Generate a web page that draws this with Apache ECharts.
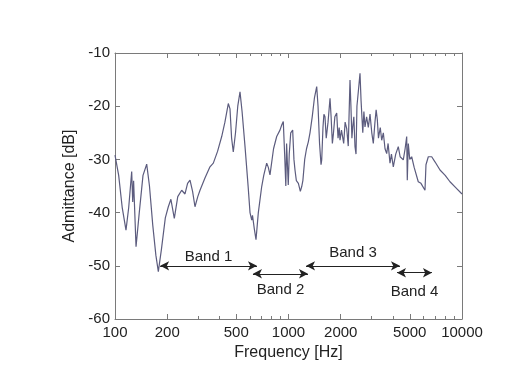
<!DOCTYPE html>
<html>
<head>
<meta charset="utf-8">
<script src="https://cdn.jsdelivr.net/npm/echarts@6/dist/echarts.min.js"></script>
<style>
	html, body { margin: 0; padding: 0; background: #fff; }
	#chart { width: 511px; height: 378px; }
</style>
</head>
<body>
<div id="chart"></div>
<script>
// measured admittance curve (Hz, dB)
const freq = [
	100, 105, 110, 115.7, 120, 124.8, 126.5, 128, 132.2, 138, 145, 152.3, 158, 165, 172, 177.7,
	185, 195, 202.9, 210, 219.7, 230, 242.3, 253.2, 262, 270.6, 280, 289.1, 300, 309,
	330, 352.7, 368.7, 390, 412.1, 430, 449.8, 460, 470, 480.6, 495, 510, 525.4, 540, 561.6,
	585, 600, 613.8, 620, 635, 649.7, 670, 700.7, 720, 748.7, 765, 782.2, 820, 855, 870,
	893, 915, 933.3, 950, 965, 975, 997, 1010, 1030, 1057, 1075, 1090, 1110, 1140, 1170,
	1192, 1210, 1240, 1270, 1301, 1330, 1370, 1410, 1454, 1480, 1510, 1540, 1554, 1580,
	1600, 1623, 1650, 1690, 1735, 1760, 1790, 1812, 1850, 1896, 1930, 1960, 1981, 2020,
	2080, 2120, 2165, 2210, 2262, 2290, 2320, 2344, 2380, 2417, 2450, 2480, 2530, 2583,
	2620, 2680, 2720, 2760, 2820, 2884, 2950, 3020, 3082, 3150, 3200, 3250, 3300, 3380,
	3445, 3520, 3600, 3681, 3750, 3846, 3920, 4018, 4150, 4293, 4400, 4588, 4700, 4800,
	4838, 4903, 5000, 5129, 5300, 5598, 5800, 6119, 6200, 6395, 6690, 7000, 7468, 8000,
	8527, 9200, 10000
];
const admittance = [
	-29.2, -33, -39, -43.3, -39, -32.3, -38, -34, -46.4, -40, -33, -30.9, -35, -42.3, -48, -51.1,
	-47, -41, -38.9, -37.5, -41.1, -37, -35.8, -36.5, -34.5, -33.9, -36, -38.9, -37, -35.8,
	-33.5, -31.4, -30.7, -28.5, -25.7, -23, -19.5, -20.5, -26, -28.6, -25, -20, -17.3, -21, -27.6,
	-35, -40, -41.4, -40.5, -43, -45.1, -40, -35.1, -33, -30.7, -31.5, -32.9, -28, -25.7, -26,
	-24.5, -23.5, -22.9, -29, -35, -27, -34.8, -29, -25, -24.5, -30, -32, -34, -34.5, -36,
	-35.1, -34, -30, -28, -26.7, -25, -22, -18.5, -16.3, -20, -27, -31, -30.1, -24,
	-21.5, -22, -26, -23, -18.5, -22, -27, -25.4, -22, -21.3, -26, -24, -26.4, -24.5,
	-27, -23, -24.2, -27.5, -15.1, -20, -26, -24, -22, -27.6, -29, -20, -17, -13.8,
	-19, -25, -21, -23.9, -22, -24, -21.5, -25, -27, -23, -20.7, -22.5, -26, -24,
	-26.4, -25, -28, -28.9, -27, -30.7, -29, -31.4, -29, -27.6, -29.5, -30.1, -28, -25.7,
	-33.9, -27, -30, -29.5, -31.5, -34.2, -34.5, -35.8, -31, -29.5, -29.5, -30.5, -32, -33,
	-34.2, -35.3, -36.5
];

// frequency bands marked with double arrows
const bandNames = ['Band 1', 'Band 2', 'Band 3', 'Band 4'];
const bandStart = [182, 624, 1262, 4220];
const bandEnd = [658, 1295, 4390, 6710];
const bandLevel = [-50, -51.5, -50, -51.3];

const majorTicks = [100, 200, 500, 1000, 2000, 5000, 10000];

const minorTicks = [];
[100, 1000].forEach(d => {
	for (let k = 1; k <= 10; k++) {
		if (!majorTicks.includes(d * k)) minorTicks.push(d * k);
	}
});

const chart = echarts.init(document.getElementById('chart'), null, { renderer: 'canvas' });

const fontFamily = 'Liberation Sans, Arial, sans-serif';
const axisColor = '#7a7a7a';

const xBase = {
	type: 'log',
	logBase: 10,
	min: 100,
	max: 10000,
	splitLine: { show: false },
	axisLine: { show: true, lineStyle: { color: axisColor, width: 1 } },
	axisLabel: { show: false },
	axisTick: { inside: true, length: 5, lineStyle: { color: axisColor } }
};

const option = {
	animation: false,
	backgroundColor: '#fff',
	grid: { left: 115, right: 49, top: 53, bottom: 59 },
	xAxis: [
		Object.assign({}, xBase, {
			position: 'bottom',
			name: 'Frequency [Hz]',
			nameLocation: 'middle',
			nameGap: 25,
			nameTextStyle: { fontSize: 16, color: '#222', fontFamily },
			axisLabel: {
				show: true,
				customValues: majorTicks,
				margin: 6,
				fontSize: 15,
				color: '#222',
				fontFamily,
				formatter: v => String(Math.round(v))
			},
			axisTick: { inside: true, length: 5, customValues: majorTicks, lineStyle: { color: axisColor } }
		}),
		Object.assign({}, xBase, {
			position: 'bottom',
			axisLine: { show: false },
			axisTick: { show: true, inside: true, length: 3, customValues: minorTicks, lineStyle: { color: axisColor } }
		}),
		Object.assign({}, xBase, {
			position: 'top',
			axisTick: { inside: true, length: 5, customValues: majorTicks, lineStyle: { color: axisColor } }
		}),
		Object.assign({}, xBase, {
			position: 'top',
			axisLine: { show: false },
			axisTick: { show: true, inside: true, length: 3, customValues: minorTicks, lineStyle: { color: axisColor } }
		})
	],
	yAxis: [
		{
			type: 'value',
			position: 'left',
			min: -60,
			max: -10,
			interval: 10,
			name: 'Admittance [dB]',
			nameLocation: 'middle',
			nameGap: 33,
			nameTextStyle: { fontSize: 16, color: '#222', fontFamily },
			splitLine: { show: false },
			axisLine: { show: true, lineStyle: { color: axisColor } },
			axisTick: { inside: true, length: 5, lineStyle: { color: axisColor } },
			axisLabel: { fontSize: 15, color: '#222', fontFamily, margin: 5 }
		},
		{
			type: 'value',
			position: 'right',
			min: -60,
			max: -10,
			interval: 10,
			splitLine: { show: false },
			axisLine: { show: true, lineStyle: { color: axisColor } },
			axisTick: { inside: true, length: 5, lineStyle: { color: axisColor } },
			axisLabel: { show: false }
		}
	],
	series: [
		{
			type: 'line',
			xAxisIndex: 0,
			yAxisIndex: 0,
			data: freq.map((f, i) => [f, admittance[i]]),
			showSymbol: false,
			symbol: 'none',
			lineStyle: { color: '#5c5c7e', width: 1.2 },
			markLine: {
				silent: true,
				symbol: ['arrow', 'arrow'],
				symbolSize: [7, 9],
				lineStyle: { color: '#222', width: 1, type: 'solid' },
				label: { show: false },
				data: bandNames.map((name, i) => [
					{
						coord: [bandStart[i], bandLevel[i]],
						label: {
							show: true,
							formatter: name,
							position: i % 2 === 0 ? 'insideMiddleTop' : 'insideMiddleBottom',
							distance: [1, 9, 5, 12][i],
							fontSize: 15,
							color: '#222',
							fontFamily
						}
					},
					{ coord: [bandEnd[i], bandLevel[i]] }
				])
			}
		}
	]
};

chart.setOption(option);
</script>
</body>
</html>
